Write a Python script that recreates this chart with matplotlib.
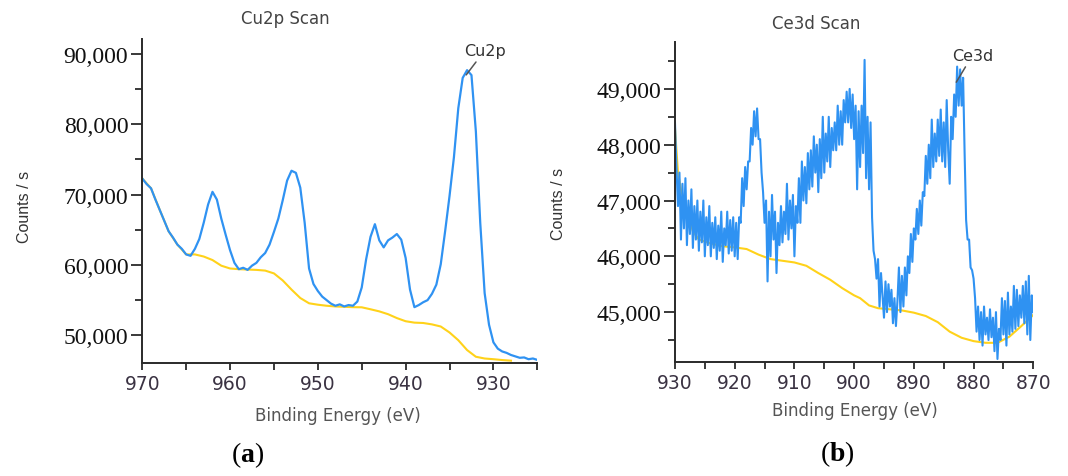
import matplotlib
matplotlib.use('Agg')
import matplotlib.pyplot as plt
import numpy as np

# ---- Cu2p scan data (binding energy eV, counts/s) ----
cu_energy = [970, 969.5, 969, 968.5, 968, 967.5, 967, 966.5, 966, 965.5,
             965, 964.5, 964, 963.5, 963, 962.5, 962, 961.5, 961, 960.5,
             960, 959.5, 959, 958.5, 958, 957.5, 957, 956.5, 956, 955.5,
             955, 954.5, 954, 953.5, 953, 952.5, 952, 951.5, 951, 950.5,
             950, 949.5, 949, 948.5, 948, 947.5, 947, 946.5, 946, 945.5,
             945, 944.5, 944, 943.5, 943, 942.5, 942, 941.5, 941, 940.5,
             940, 939.5, 939, 938.5, 938, 937.5, 937, 936.5, 936, 935.5,
             935, 934.5, 934, 933.5, 933, 932.5, 932, 931.5, 931, 930.5,
             930, 929.5, 929, 928.5, 928, 927.5, 927, 926.5, 926, 925.5, 925]
cu_counts = [72300, 71500, 70900, 69300, 67800, 66300, 64800, 63900, 62900, 62300,
             61500, 61300, 62300, 63700, 66000, 68600, 70400, 69300, 66600, 64300,
             62100, 60300, 59400, 59600, 59300, 59900, 60300, 61100, 61700, 62900,
             64700, 66600, 69200, 72000, 73400, 73100, 71000, 66000, 59500, 57300,
             56300, 55500, 55000, 54500, 54200, 54400, 54100, 54300, 54200, 54800,
             56800, 60800, 64000, 65800, 63500, 62500, 63500, 63900, 64400, 63600,
             61000, 56500, 54000, 54300, 54700, 55000, 55900, 57200, 60100, 64800,
             69800, 75300, 82300, 86600, 87700, 87000, 79000, 66000, 56000, 51500,
             49000, 48100, 47700, 47500, 47200, 47000, 46800, 46850, 46600, 46700, 46500]
cu_bg_energy = [970, 969, 968, 967, 966, 965, 964, 963, 962, 961, 960, 959, 958,
                957, 956, 955, 954, 953, 952, 951, 950, 949, 948, 947, 946, 945,
                944, 943, 942, 941, 940, 939, 938, 937, 936, 935, 934, 933, 932,
                931, 930, 929, 928]
cu_bg_counts = [72300, 70900, 67800, 64800, 62900, 61500, 61500, 61200, 60700, 59900,
                59500, 59400, 59350, 59300, 59200, 58800, 57800, 56500, 55300, 54550,
                54350, 54200, 54100, 54050, 54000, 53980, 53700, 53400, 53000, 52450,
                52000, 51800, 51750, 51550, 51250, 50400, 49300, 47900, 46950, 46700,
                46600, 46480, 46390]
cu_yticks = [50000, 60000, 70000, 80000, 90000]
cu_xticks = [970, 960, 950, 940, 930]

# ---- Ce3d scan data: 930 -> 870 eV in 0.25 eV steps ----
ce_counts = [
    48400, 47600, 46900, 47500, 46300, 47300, 46500, 47400, 46200, 47000,
    46400, 47200, 46150, 46900, 46300, 47000, 46100, 46800, 46250, 47000,
    46000, 46700, 46200, 46900, 46000, 46600, 46150, 46700, 45950, 46550,
    46100, 46800, 45900, 46500, 46200, 46800, 46050, 46650, 46100, 46700,
    46000, 46600, 45950, 46700, 46600, 47400, 46900, 47600, 47200, 47700,
    47700, 48300, 48000, 48600, 48150, 48650, 48100, 48100, 47500, 47150,
    46600, 47000, 45550, 46800, 46000, 47100, 46300, 46800, 45700, 46600,
    46200, 46900, 46250, 46800, 46400, 47300, 46300, 47000, 46500, 47100,
    46000, 46900, 46600, 47400, 46600, 47700, 47000, 47600, 46950, 47850,
    47200, 47900, 47250, 48150, 47500, 48000, 47150, 48100, 47400, 48500,
    47500, 48200, 47700, 48500, 47600, 48300, 47900, 48400, 47900, 48700,
    48000, 48600, 48000, 48800, 48400, 48950, 48400, 49000, 48300, 48900,
    48100, 48700, 47200, 48600, 47600, 48700, 47850, 49520, 47400, 48500,
    47200, 48400, 46700, 46100, 45950, 45600, 45950, 45100, 45700, 45300,
    44900, 45550, 45000, 45500, 45100, 45400, 44800, 45250, 44750, 45200,
    45800, 45000, 45650, 45100, 45800, 45300, 46000, 45700, 46400, 45900,
    46500, 46300, 46850, 46400, 47000, 46550, 47150, 47080, 47800, 47300,
    48000, 47400, 48450, 47600, 48200, 47700, 48450, 47800, 48630, 47700,
    48400, 47600, 48800, 47900, 47300, 48500, 48100, 48900, 48500, 49400,
    48700, 49350, 48700, 49200, 47850, 46650, 46300, 46300, 45800, 45750,
    45600, 45250, 44650, 45100, 44500, 45000, 44400, 45100, 44600, 44900,
    44500, 45050, 44550, 44900, 44300, 45000, 44160, 44700, 44500, 45250,
    44600, 45200, 44400, 45350, 44600, 45100, 44650, 45470, 44700, 45400,
    44750, 45300, 44900, 45470, 44800, 45550, 44600, 45650, 44500, 45300,
    45000]
ce_energy = np.linspace(930, 870, len(ce_counts))
ce_bg_energy = [930, 929.5, 929, 928, 927, 926, 924, 922, 920, 918, 916, 914, 912,
                910, 908, 906, 904, 902, 900, 899, 897.5, 896, 894, 892, 890, 888,
                886, 884, 882, 880, 878, 876, 874, 872, 870]
ce_bg_counts = [48300, 47500, 47200, 46800, 46450, 46300, 46230, 46180, 46160, 46130,
                46030, 45950, 45920, 45890, 45830, 45700, 45580, 45430, 45300, 45250,
                45120, 45070, 45050, 45030, 44990, 44930, 44820, 44650, 44540, 44480,
                44450, 44450, 44560, 44750, 44950]
ce_yticks = [45000, 46000, 47000, 48000, 49000]
ce_xticks = [930, 920, 910, 900, 890, 880, 870]

blue = '#2f92f2'
yellow = '#ffd21a'
dark = '#2a2a2a'

plt.rcParams['mathtext.fontset'] = 'custom'
plt.rcParams['mathtext.rm'] = 'Liberation Serif'
plt.rcParams['mathtext.bf'] = 'Liberation Serif:bold'

fig = plt.figure(figsize=(10.68, 4.77), dpi=100)
ax1 = fig.add_axes([0.1332, 0.2369, 0.3699, 0.6792])
ax2 = fig.add_axes([0.6320, 0.2390, 0.3355, 0.6702])


def style_axis(ax, xticks, yticks, xminor, yminor):
    for side in ['top', 'right']:
        ax.spines[side].set_visible(False)
    for side in ['left', 'bottom']:
        ax.spines[side].set_color(dark)
        ax.spines[side].set_linewidth(1.4)
    ax.set_xticks(xticks, labels=[str(v) for v in xticks],
                  fontfamily='DejaVu Sans', fontsize=13.5, color='#3a3242')
    ax.set_xticks(xminor, minor=True)
    ax.set_yticks(yticks, labels=['{:,}'.format(v) for v in yticks],
                  fontfamily='Liberation Serif', fontsize=17, color='#111111')
    ax.set_yticks(yminor, minor=True)
    ax.tick_params(axis='x', which='both', direction='out', length=5, width=1.3,
                   color=dark, pad=3)
    ax.tick_params(axis='y', which='major', direction='out', length=8, width=1.3,
                   color=dark, pad=2)
    ax.tick_params(axis='y', which='minor', direction='out', length=5, width=1.3,
                   color=dark)


# (a) Cu2p
ax1.plot(cu_bg_energy, cu_bg_counts, color=yellow, lw=1.5)
ax1.plot(cu_energy, cu_counts, color=blue, lw=1.6)
ax1.set_xlim(970, 925)
ax1.set_ylim(46060, 92130)
style_axis(ax1, cu_xticks, cu_yticks, [965, 955, 945, 935, 925],
           [55000, 65000, 75000, 85000])
ax1.annotate('Cu2p', xy=(933.1, 87030), xytext=(931.0, 90480),
             ha='center', va='center', fontsize=11.5, color='#333333',
             arrowprops=dict(arrowstyle='-', color='#555555', lw=1.1,
                             shrinkA=1, shrinkB=0))

# (b) Ce3d
ax2.plot(ce_bg_energy, ce_bg_counts, color=yellow, lw=1.5)
ax2.plot(ce_energy, ce_counts, color=blue, lw=1.5)
ax2.set_xlim(930, 870)
ax2.set_ylim(44106, 49835)
style_axis(ax2, ce_xticks, ce_yticks, [925, 915, 905, 895, 885, 875],
           [44500, 45500, 46500, 47500, 48500, 49500])
ax2.annotate('Ce3d', xy=(882.9, 49120), xytext=(880.2, 49600),
             ha='center', va='center', fontsize=11.5, color='#333333',
             arrowprops=dict(arrowstyle='-', color='#555555', lw=1.1,
                             shrinkA=1, shrinkB=0))

# titles and axis labels
fig.text(0.2669, 0.9602, 'Cu2p Scan', ha='center', va='center',
         fontsize=12, color='#444444')
fig.text(0.7640, 0.9497, 'Ce3d Scan', ha='center', va='center',
         fontsize=12, color='#444444')
for xpos, ypos in [(0.0225, 0.566), (0.5225, 0.572)]:
    fig.text(xpos, ypos, 'Counts / s', rotation=90, ha='center', va='center',
             fontsize=11.5, color='#333333',
             family=['Liberation Sans Narrow', 'Liberation Sans', 'DejaVu Sans'])
fig.text(0.3165, 0.1279, 'Binding Energy (eV)', ha='center', va='center',
         fontsize=12, color='#555555')
fig.text(0.8002, 0.1384, 'Binding Energy (eV)', ha='center', va='center',
         fontsize=12, color='#555555')

fig.text(0.2322, 0.045, r'($\mathbf{a}$)', ha='center', va='center',
         fontsize=20, family='Liberation Serif', color='black')
fig.text(0.7837, 0.048, r'($\mathbf{b}$)', ha='center', va='center',
         fontsize=20, family='Liberation Serif', color='black')

fig.savefig('out.png', dpi=100)
